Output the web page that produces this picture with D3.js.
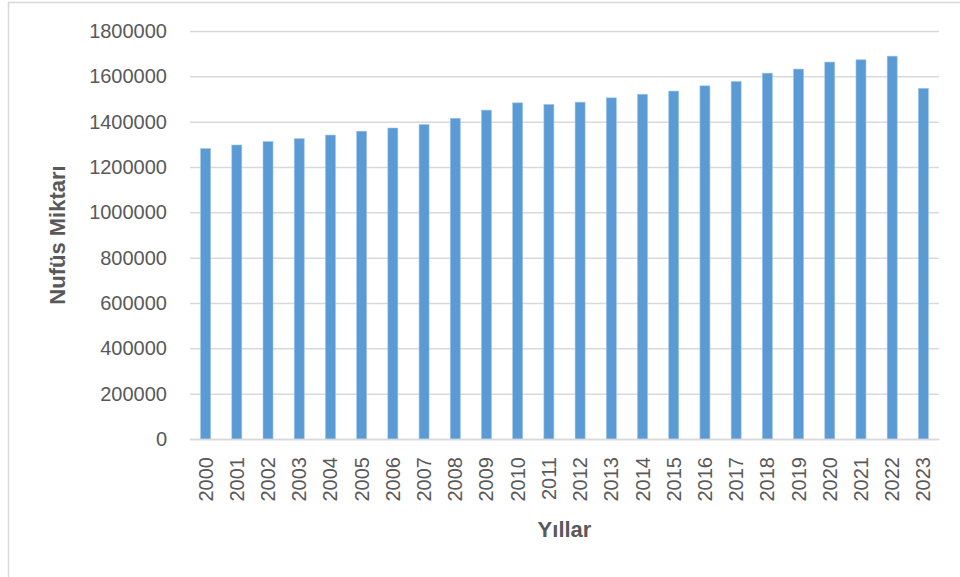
<!DOCTYPE html>
<html>
<head>
<meta charset="utf-8">
<script src="https://cdn.jsdelivr.net/npm/d3@7.9.0/dist/d3.min.js"></script>
<style>
  body { margin: 0; background: #fff; }
  svg { display: block; font-family: "Liberation Sans", Arial, sans-serif; }
</style>
</head>
<body>
<div id="chart"></div>
<script>
const years = ["2000","2001","2002","2003","2004","2005","2006","2007","2008","2009","2010","2011",
  "2012","2013","2014","2015","2016","2017","2018","2019","2020","2021","2022","2023"];
const population = [1281000, 1297000, 1312000, 1325000, 1341000, 1358000, 1372000, 1387000,
  1415000, 1451000, 1483000, 1476000, 1486000, 1505000, 1521000, 1535000, 1558000, 1577000,
  1614000, 1632000, 1663000, 1673000, 1689000, 1547000];
const yTicks = [0, 200000, 400000, 600000, 800000, 1000000, 1200000, 1400000, 1600000, 1800000];

const width = 960;
const height = 577;
const textColor = "#595959";
const gridColor = "#d9d9d9";

const svg = d3.select("#chart")
  .append("svg")
  .attr("width", width)
  .attr("height", height);

// chart frame
svg.append("path")
  .attr("d", `M8.5,${height} V2.5 H${width}`)
  .attr("fill", "none")
  .attr("stroke", gridColor)
  .attr("stroke-width", 1.5);

const margin = { top: 31, right: 21, bottom: 138, left: 190 };

const x = d3.scaleBand()
  .domain(years)
  .range([margin.left, width - margin.right])
  .paddingInner(0.68)
  .paddingOuter(0.34);

const y = d3.scaleLinear()
  .domain([0, 1800000])
  .range([height - margin.bottom, margin.top]);

// gridlines
const grid = svg.append("g")
  .attr("transform", `translate(${margin.left},0)`)
  .call(d3.axisLeft(y).tickValues(yTicks).tickFormat("").tickSize(-(width - margin.left - margin.right)));
grid.select(".domain").remove();
grid.selectAll("line").attr("stroke", gridColor).attr("stroke-width", 1.5);

// y labels
const yAxis = svg.append("g")
  .attr("transform", `translate(${margin.left},0)`)
  .call(d3.axisLeft(y).tickValues(yTicks).tickFormat(d3.format("d")).tickSize(0).tickPadding(23));
yAxis.select(".domain").remove();
yAxis.selectAll("text")
  .attr("fill", textColor)
  .style("font-size", "20px");

// bars
svg.append("g")
  .selectAll("rect")
  .data(years.map((yr, i) => ({ year: yr, value: population[i] })))
  .join("rect")
  .attr("x", d => x(d.year))
  .attr("y", d => y(d.value))
  .attr("width", x.bandwidth())
  .attr("height", d => y(0) - y(d.value))
  .attr("fill", "#5b9bd5")
  .attr("stroke", "#9dc3e6")
  .attr("stroke-width", 0.6);

// x axis
const xAxis = svg.append("g")
  .attr("transform", `translate(0,${y(0)})`)
  .call(d3.axisBottom(x).tickSize(0).tickPadding(0));
xAxis.select(".domain").attr("stroke", gridColor).attr("stroke-width", 1.5);
xAxis.selectAll("text")
  .attr("fill", textColor)
  .style("font-size", "20px")
  .attr("text-anchor", "end")
  .attr("dy", "0.35em")
  .attr("transform", "translate(0,18) rotate(-90)");

// axis titles
svg.append("text")
  .attr("x", (margin.left + width - margin.right) / 2)
  .attr("y", 537)
  .attr("text-anchor", "middle")
  .attr("fill", textColor)
  .style("font-size", "22px")
  .style("font-weight", "bold")
  .text("Yıllar");

svg.append("text")
  .attr("transform", `translate(65,${(y(0) + y(1800000)) / 2}) rotate(-90)`)
  .attr("text-anchor", "middle")
  .attr("fill", textColor)
  .style("font-size", "22px")
  .style("font-weight", "bold")
  .text("Nufüs Miktarı");
</script>
</body>
</html>
